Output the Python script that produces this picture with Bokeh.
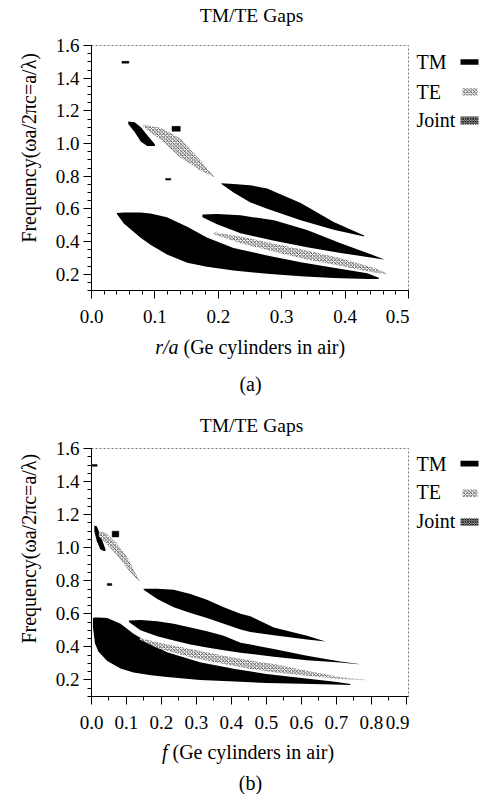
import numpy as np
from bokeh.plotting import figure
from bokeh.models import FixedTicker, PrintfTickFormatter
from bokeh.core.properties import value
from bokeh.layouts import column, row
from bokeh.embed import file_html
from bokeh.resources import INLINE

FONT = "Liberation Serif"

# ---------------- panel (a): r/a ----------------
a_x_ticks = [0.0, 0.1, 0.2, 0.3, 0.4, 0.5]
a_x_minor = [round(v, 2) for v in np.arange(0.0, 0.5001, 0.02)]
y_ticks = [0.2, 0.4, 0.6, 0.8, 1.0, 1.2, 1.4, 1.6]
y_minor = [round(v, 2) for v in np.arange(0.1, 1.6001, 0.05)]

# TM gaps (black)
a_tm1_x = [0.040, 0.051, 0.077, 0.093, 0.119, 0.151, 0.182, 0.224, 0.277, 0.330, 0.382, 0.435, 0.453]
a_tm1_hi = [0.575, 0.578, 0.577, 0.572, 0.548, 0.490, 0.425, 0.360, 0.314, 0.273, 0.239, 0.205, 0.178]
a_tm1_lo = [0.568, 0.510, 0.425, 0.380, 0.320, 0.270, 0.245, 0.222, 0.203, 0.188, 0.177, 0.171, 0.170]

a_tm2_x = [0.175, 0.198, 0.235, 0.288, 0.340, 0.393, 0.435, 0.461]
a_tm2_hi = [0.565, 0.568, 0.560, 0.530, 0.470, 0.390, 0.330, 0.292]
a_tm2_lo = [0.548, 0.505, 0.450, 0.405, 0.365, 0.330, 0.305, 0.290]

a_tm3_x = [0.205, 0.224, 0.250, 0.277, 0.330, 0.382, 0.430]
a_tm3_hi = [0.757, 0.752, 0.745, 0.725, 0.635, 0.520, 0.437]
a_tm3_lo = [0.752, 0.700, 0.640, 0.600, 0.530, 0.472, 0.430]

a_tm4_x = [0.058, 0.068, 0.078, 0.088, 0.100]
a_tm4_hi = [1.135, 1.130, 1.100, 1.050, 0.995]
a_tm4_lo = [1.120, 1.070, 1.010, 0.985, 0.985]

a_tm_small_l = [0.127, 0.048, 0.117]
a_tm_small_r = [0.140, 0.059, 0.125]
a_tm_small_b = [1.075, 1.492, 0.776]
a_tm_small_t = [1.105, 1.503, 0.786]

# TE gaps (dotted)
a_te1_x = [0.193, 0.235, 0.290, 0.340, 0.390, 0.445, 0.466]
a_te1_hi = [0.457, 0.430, 0.385, 0.345, 0.300, 0.240, 0.205]
a_te1_lo = [0.445, 0.390, 0.335, 0.290, 0.253, 0.210, 0.200]

a_te2_x = [0.082, 0.110, 0.140, 0.170, 0.193]
a_te2_hi = [1.115, 1.095, 1.030, 0.905, 0.800]
a_te2_lo = [1.100, 1.020, 0.915, 0.840, 0.795]

# ---------------- panel (b): f ----------------
b_x_ticks = [0.0, 0.1, 0.2, 0.3, 0.4, 0.5, 0.6, 0.7, 0.8, 0.9]
b_x_minor = [round(v, 2) for v in np.arange(0.0, 0.9001, 0.05)]

b_tm1_x = [0.004, 0.010, 0.020, 0.045, 0.083, 0.120, 0.170, 0.216, 0.310, 0.410, 0.500, 0.600, 0.690, 0.740]
b_tm1_hi = [0.575, 0.578, 0.578, 0.575, 0.540, 0.480, 0.418, 0.367, 0.307, 0.267, 0.236, 0.212, 0.190, 0.175]
b_tm1_lo = [0.520, 0.420, 0.370, 0.315, 0.270, 0.245, 0.228, 0.218, 0.200, 0.190, 0.182, 0.177, 0.172, 0.170]

b_tm2_x = [0.107, 0.140, 0.188, 0.235, 0.283, 0.330, 0.378, 0.426, 0.521, 0.616, 0.711, 0.764]
b_tm2_hi = [0.559, 0.563, 0.555, 0.540, 0.518, 0.495, 0.468, 0.425, 0.388, 0.347, 0.311, 0.297]
b_tm2_lo = [0.550, 0.500, 0.465, 0.438, 0.415, 0.397, 0.380, 0.365, 0.340, 0.320, 0.305, 0.295]

b_tm3_x = [0.149, 0.188, 0.235, 0.283, 0.330, 0.378, 0.426, 0.454, 0.521, 0.616, 0.669]
b_tm3_hi = [0.751, 0.751, 0.745, 0.720, 0.685, 0.640, 0.600, 0.585, 0.518, 0.468, 0.432]
b_tm3_lo = [0.745, 0.690, 0.640, 0.605, 0.575, 0.540, 0.505, 0.490, 0.470, 0.445, 0.432]

b_tm4_x = [0.008, 0.015, 0.025, 0.035, 0.040]
b_tm4_hi = [1.135, 1.130, 1.080, 1.020, 0.990]
b_tm4_lo = [1.100, 1.040, 0.990, 0.980, 0.980]

b_tm_small_l = [0.059, 0.002, 0.045]
b_tm_small_r = [0.078, 0.016, 0.058]
b_tm_small_b = [1.065, 1.492, 0.772]
b_tm_small_t = [1.100, 1.503, 0.784]

b_te1_x = [0.138, 0.188, 0.283, 0.378, 0.454, 0.521, 0.616, 0.711, 0.788]
b_te1_hi = [0.454, 0.428, 0.388, 0.347, 0.317, 0.297, 0.256, 0.216, 0.200]
b_te1_lo = [0.445, 0.394, 0.337, 0.297, 0.267, 0.246, 0.226, 0.206, 0.198]

b_te2_x = [0.021, 0.040, 0.070, 0.100, 0.120, 0.137]
b_te2_hi = [1.100, 1.090, 1.030, 0.950, 0.870, 0.800]
b_te2_lo = [1.070, 1.030, 0.960, 0.880, 0.830, 0.795]

legend_labels = ["TM", "TE", "Joint"]
title_text = "TM/TE Gaps"
y_label = "Frequency(\u03c9a/2\u03c0c=a/\u03bb)"

TE_HATCH = dict(fill_color="white", hatch_pattern="diagonal_cross", hatch_scale=3.5,
                hatch_weight=0.8, hatch_color="#222222")
JOINT_HATCH = dict(fill_color="white", hatch_pattern="diagonal_cross", hatch_scale=2.5,
                   hatch_weight=1.1, hatch_color="#111111")

YL_W, MAIN_W, LEG_W = 46, 363, 76
TOTAL_W = YL_W + MAIN_W + LEG_W  # 485


def blank_fig(w, h):
    f = figure(width=w, height=h, x_range=(0, w), y_range=(0, h),
               output_backend="svg", toolbar_location=None,
               x_axis_type=None, y_axis_type=None,
               min_border_left=0, min_border_right=0, min_border_top=0, min_border_bottom=0)
    f.grid.visible = False
    f.outline_line_color = None
    f.background_fill_color = "white"
    f.border_fill_color = "white"
    return f


def txt(f, h, x, y_top, s, size="20px", align="left", style="normal", angle=0.0):
    f.text(x=[x], y=[h - y_top], text=[s], text_font=value(FONT), text_font_size=value(size),
           text_font_style=style, text_color="black", text_align=align,
           text_baseline="middle", angle=angle)


def make_main(top_b, frame_h, x_end, x_ticks, x_minor, tm_bands, tm_small, te_bands):
    bottom_b = 44
    H = top_b + frame_h + bottom_b
    p = figure(width=MAIN_W, height=H, x_range=(0, x_end), y_range=(0.1, 1.6),
               output_backend="svg", toolbar_location=None,
               min_border_left=45, min_border_right=1,
               min_border_top=top_b, min_border_bottom=bottom_b)
    p.grid.visible = False
    p.outline_line_color = "#777777"
    p.outline_line_dash = "2 2"
    p.outline_line_width = 1
    p.background_fill_color = "white"
    p.border_fill_color = "white"

    for xs, hi, lo in tm_bands:
        p.varea(x=xs, y1=lo, y2=hi, fill_color="black")
    for xs, hi, lo in te_bands:
        p.varea(x=xs, y1=lo, y2=hi, **TE_HATCH)
    l, r_, b, t = tm_small
    p.quad(left=l, right=r_, bottom=b, top=t, fill_color="black", line_color="black", line_width=0.5)

    for ax in (p.xaxis[0], p.yaxis[0]):
        ax.axis_line_color = "black"
        ax.major_tick_line_color = "black"
        ax.minor_tick_line_color = "black"
        ax.major_tick_in = 0
        ax.minor_tick_in = 0
        ax.major_label_text_font = FONT
        ax.major_label_text_font_size = "19px"
        ax.major_label_text_color = "black"
        ax.formatter = PrintfTickFormatter(format="%.1f")
    p.xaxis.ticker = FixedTicker(ticks=x_ticks, minor_ticks=x_minor)
    p.yaxis.ticker = FixedTicker(ticks=y_ticks, minor_ticks=y_minor)
    p.xaxis.major_tick_out = 8
    p.xaxis.minor_tick_out = 4
    p.xaxis.major_label_standoff = 11
    p.yaxis.major_tick_out = 8
    p.yaxis.minor_tick_out = 4
    p.yaxis.major_label_standoff = 4
    return p, H


def make_ylabel(H, y_center):
    f = blank_fig(YL_W, H)
    txt(f, H, 28, y_center, y_label, align="center", angle=np.pi / 2)
    return f


def make_legend(H, text_y, sw_x, sw_y):
    f = blank_fig(LEG_W, H)
    for yy, lab in zip(text_y, legend_labels):
        txt(f, H, 7, yy, lab)
    styles = [dict(fill_color="black"), TE_HATCH, JOINT_HATCH]
    for (x0, x1), (y0, y1), st in zip(sw_x, sw_y, styles):
        f.quad(left=[x0], right=[x1], top=[H - y0], bottom=[H - y1], line_color=None, **st)
    return f


def make_header(H, y):
    f = blank_fig(TOTAL_W, H)
    txt(f, H, 251, y, title_text, size="19.5px", align="center")
    return f


def make_caption(H, italic_part, rest, right_x, left_x, xlab_y, cap, cap_y):
    f = blank_fig(TOTAL_W, H)
    txt(f, H, right_x, xlab_y, italic_part, align="right", style="italic")
    txt(f, H, left_x, xlab_y, rest, align="left")
    txt(f, H, 250, cap_y, cap, align="center")
    return f


# ----- panel (a) -----
ha = make_header(30, 15)
pa, Ha = make_main(15, 245, 0.5, a_x_ticks, a_x_minor,
                   [(a_tm1_x, a_tm1_hi, a_tm1_lo), (a_tm2_x, a_tm2_hi, a_tm2_lo),
                    (a_tm3_x, a_tm3_hi, a_tm3_lo), (a_tm4_x, a_tm4_hi, a_tm4_lo)],
                   (a_tm_small_l, a_tm_small_r, a_tm_small_b, a_tm_small_t),
                   [(a_te1_x, a_te1_hi, a_te1_lo), (a_te2_x, a_te2_hi, a_te2_lo)])
ya = make_ylabel(Ha, 127)
la = make_legend(Ha, [21, 58, 92], [(51, 69), (53, 68), (51, 69)],
                 [(17, 24), (53, 62), (88, 98)])
ca = make_caption(76, "r/a", "(Ge cylinders in air)", 178, 183, 12, "(a)", 49)

# ----- panel (b) -----
hb = make_header(28, 15)
pb, Hb = make_main(10, 248, 0.906, b_x_ticks, b_x_minor,
                   [(b_tm1_x, b_tm1_hi, b_tm1_lo), (b_tm2_x, b_tm2_hi, b_tm2_lo),
                    (b_tm3_x, b_tm3_hi, b_tm3_lo), (b_tm4_x, b_tm4_hi, b_tm4_lo)],
                   (b_tm_small_l, b_tm_small_r, b_tm_small_b, b_tm_small_t),
                   [(b_te1_x, b_te1_hi, b_te1_lo), (b_te2_x, b_te2_hi, b_te2_lo)])
yb = make_ylabel(Hb, 122)
lb = make_legend(Hb, [19, 53, 88], [(51, 69), (53, 68), (51, 69)],
                 [(15, 22), (50, 59), (85, 94)])
cb = make_caption(54, "f", "(Ge cylinders in air)", 167, 172, 11, "(b)", 42)

layout = column(ha, row(ya, pa, la, spacing=0), ca,
                hb, row(yb, pb, lb, spacing=0), cb, spacing=0)
open("out.html", "w").write(file_html(layout, INLINE))
